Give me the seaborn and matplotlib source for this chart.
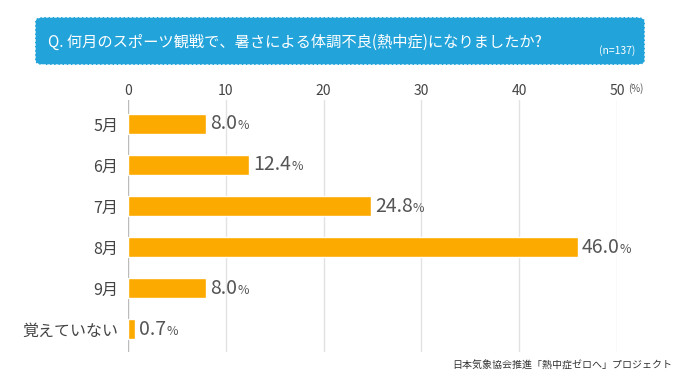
import matplotlib
matplotlib.use("Agg")
import matplotlib.pyplot as plt
from matplotlib.patches import FancyBboxPatch
import pandas as pd
import seaborn as sns

# data
categories = ["5月", "6月", "7月", "8月", "9月", "覚えていない"]
values = [8.0, 12.4, 24.8, 46.0, 8.0, 0.7]
ticks = [0, 10, 20, 30, 40, 50]

title = "Q. 何月のスポーツ観戦で、暑さによる体調不良(熱中症)になりましたか?"
note = "(n=137)"
source = "日本気象協会推進「熱中症ゼロへ」プロジェクト"

df = pd.DataFrame({"cat": categories, "val": values})

sns.set_theme(style="white")
plt.rcParams["font.family"] = ["Noto Sans CJK JP", "DejaVu Sans"]

W, H = 680, 380
fig = plt.figure(figsize=(6.8, 3.8), dpi=100)
ax = fig.add_axes([128 / W, 1 - 352 / H, (617 - 128) / W, 252 / H])

sns.barplot(data=df, x="val", y="cat", color="#FDAA00", width=0.49,
            saturation=1, ax=ax, zorder=3)

ax.set_xlim(0, 50)
ax.set_ylim(5.56, -0.585)
ax.set_xticks(ticks)
ax.xaxis.tick_top()
ax.tick_params(axis="x", length=0, pad=1.5, labelsize=10, labelcolor="#444444")
ax.tick_params(axis="y", length=0, pad=7, labelsize=11.5, labelcolor="#444444")
ax.set_xlabel("")
ax.set_ylabel("")
for s in ax.spines.values():
    s.set_visible(False)
for t in ticks:
    ax.axvline(t, color="#BBBBBB" if t == 0 else "#E2E2E2", lw=1, zorder=1)

# value labels: number large, % small
fig.canvas.draw()
r = fig.canvas.get_renderer()
for i, v in enumerate(values):
    txt = ax.annotate(f"{v:.1f}", (v, i), xytext=(3, 0), textcoords="offset points",
                      ha="left", va="center", fontsize=14, color="#555555")
    bb = txt.get_window_extent(renderer=r)
    fig.text(bb.x1 / W, (bb.y0 + bb.y1) / 2 / H - 2 / H, "%", ha="left", va="center",
             fontsize=9, color="#555555")

# "(%)" next to 50
fig.text(628 / W, 1 - 89 / H, "(%)", ha="left", va="center", fontsize=7, color="#555555")

# title box
box = FancyBboxPatch((35 / W, 1 - 65 / H), (645 - 35) / W, 48 / H,
                     boxstyle="round,pad=0,rounding_size=0.012",
                     transform=fig.transFigure, facecolor="#22A3DA",
                     edgecolor="white", lw=1, ls=(0, (2, 1)))
fig.patches.append(box)
fig.text(48 / W, 1 - 42 / H, title, ha="left", va="center", fontsize=11, color="white")
fig.text(635 / W, 1 - 51 / H, note, ha="right", va="center", fontsize=7.5, color="white")

fig.text(672 / W, 1 - 366 / H, source, ha="right", va="center", fontsize=7.2, color="#333333")

fig.savefig("out.png", dpi=100)
